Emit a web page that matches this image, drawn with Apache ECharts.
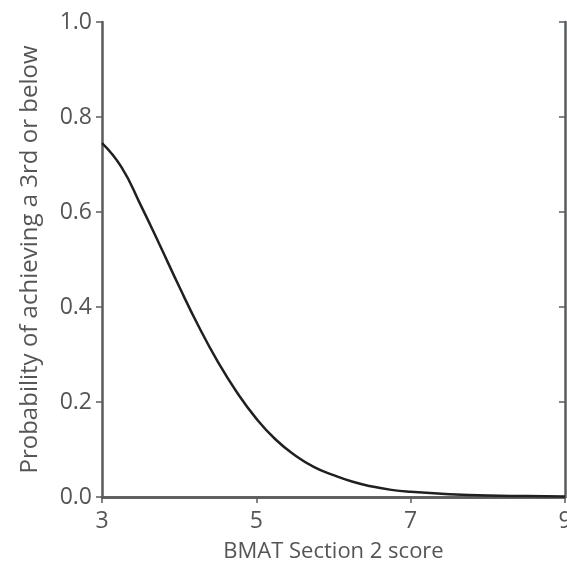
<!DOCTYPE html>
<html>
<head>
<meta charset="utf-8">
<script src="https://cdn.jsdelivr.net/npm/echarts@6/dist/echarts.min.js"></script>
<style>
  html, body { margin: 0; padding: 0; background: #fff; }
  #chart { width: 567px; height: 570px; }
</style>
</head>
<body>
<div id="chart"></div>
<script>
// BMAT section 2 score vs probability of a 3rd or below
var scores = [3.0, 3.25, 3.5, 3.75, 4.0, 4.25, 4.5, 4.75, 5.0, 5.25, 5.5, 5.75,
              6.0, 6.25, 6.5, 6.75, 7.0, 7.5, 8.0, 8.5, 9.0];
var probability = [0.745, 0.695, 0.615, 0.530, 0.443, 0.360, 0.285, 0.220, 0.165, 0.121, 0.088, 0.063,
                   0.046, 0.032, 0.022, 0.015, 0.011, 0.006, 0.003, 0.002, 0.001];
var xTicks = [3, 5, 7, 9];
var yTicks = [0.0, 0.2, 0.4, 0.6, 0.8, 1.0];

var axisColor = '#595c5f';
var textColor = '#545558';
var fontName = 'Open Sans';

var seriesData = [];
for (var i = 0; i < scores.length; i++) {
	seriesData.push([scores[i], probability[i]]);
}

var chart = echarts.init(document.getElementById('chart'));
chart.setOption({
	animation: false,
	grid: { left: 102, right: 2, top: 22, bottom: 73, outerBoundsMode: 'none', containLabel: false },
	xAxis: [{
		type: 'value',
		min: xTicks[0],
		max: xTicks[xTicks.length - 1],
		interval: 2,
		name: 'BMAT Section 2 score',
		nameLocation: 'middle',
		nameGap: 44,
		nameTextStyle: { color: textColor, fontSize: 22, fontFamily: fontName },
		axisLine: { lineStyle: { color: axisColor, width: 2.5 } },
		axisTick: { show: true, length: 6, lineStyle: { color: axisColor, width: 1.5 } },
		axisLabel: { color: textColor, fontSize: 23, fontFamily: fontName, margin: 13 },
		splitLine: { show: false }
	}, {
		type: 'value',
		position: 'top',
		min: xTicks[0],
		max: xTicks[xTicks.length - 1],
		interval: 2,
		axisLine: { lineStyle: { color: axisColor, width: 2.5 } },
		axisTick: { show: true, inside: true, length: 6, lineStyle: { color: axisColor, width: 1.5 } },
		axisLabel: { show: false },
		splitLine: { show: false }
	}],
	yAxis: [{
		type: 'value',
		min: yTicks[0],
		max: yTicks[yTicks.length - 1],
		interval: 0.2,
		name: 'Probability of achieving a 3rd or below',
		nameLocation: 'middle',
		nameGap: 60,
		nameTextStyle: { color: textColor, fontSize: 24, fontFamily: fontName },
		axisLine: { show: true, lineStyle: { color: axisColor, width: 2.5 } },
		axisTick: { show: true, length: 6, lineStyle: { color: axisColor, width: 1.5 } },
		axisLabel: {
			color: textColor, fontSize: 23, fontFamily: fontName, margin: 10,
			formatter: function(v) { return v.toFixed(1); }
		},
		splitLine: { show: false }
	}, {
		type: 'value',
		position: 'right',
		min: yTicks[0],
		max: yTicks[yTicks.length - 1],
		interval: 0.2,
		axisLine: { show: true, lineStyle: { color: axisColor, width: 2.5 } },
		axisTick: { show: true, inside: true, length: 6, lineStyle: { color: axisColor, width: 1.5 } },
		axisLabel: { show: false },
		splitLine: { show: false }
	}],
	series: [{
		type: 'line',
		data: seriesData,
		smooth: true,
		showSymbol: false,
		lineStyle: { color: '#231f20', width: 2.5 }
	}]
});
</script>
</body>
</html>
